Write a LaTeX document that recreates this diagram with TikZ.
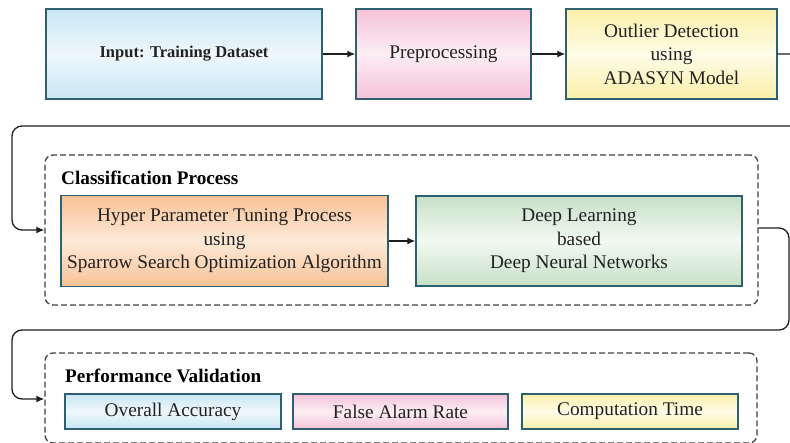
\documentclass[tikz,border=0pt]{standalone}
\usepackage{fontspec}
\setmainfont{Liberation Serif}
\usetikzlibrary{arrows.meta}
\definecolor{boxline}{HTML}{2F6070}
\definecolor{bluetop}{HTML}{C9E6F5}
\definecolor{bluemid}{HTML}{EEF8FC}
\definecolor{pinktop}{HTML}{F5C2D7}
\definecolor{pinkmid}{HTML}{FCEEF4}
\definecolor{yeltop}{HTML}{FAEFA8}
\definecolor{yelmid}{HTML}{FFFCE8}
\definecolor{orgtop}{HTML}{F8C296}
\definecolor{orgmid}{HTML}{FDE9D8}
\definecolor{grntop}{HTML}{C6E0C6}
\definecolor{grnmid}{HTML}{F2F9F2}
\definecolor{dashcol}{HTML}{404040}
\definecolor{conncol}{HTML}{1E1E1E}
\definecolor{txtcol}{HTML}{222222}
\begin{document}
\begin{tikzpicture}[x=1pt,y=-1pt,
  box/.style={draw=boxline, line width=1.4pt, inner sep=0pt, align=center,
    font=\fontsize{19.3}{23.5}\selectfont, text=txtcol},
  bluebox/.style={box, top color=bluetop, bottom color=bluetop, middle color=bluemid},
  pinkbox/.style={box, top color=pinktop, bottom color=pinktop, middle color=pinkmid},
  yelbox/.style={box, top color=yeltop, bottom color=yeltop, middle color=yelmid},
  orgbox/.style={box, top color=orgtop, bottom color=orgtop, middle color=orgmid},
  grnbox/.style={box, top color=grntop, bottom color=grntop, middle color=grnmid},
  dbox/.style={draw=dashcol, line width=1.3pt, dash pattern=on 6pt off 3pt, rounded corners=8pt, inner sep=0pt},
  grouplabel/.style={anchor=west, inner sep=0pt, font=\bfseries\fontsize{19.2}{23}\selectfont, text=black},
  conn/.style={draw=conncol, line width=1.3pt, -{Latex[length=8pt,width=7pt]}}
]
\useasboundingbox (0,0) rectangle (790,443);
\clip (0,0) rectangle (790,443);

% top row
\node[bluebox, minimum width=276, minimum height=90, font=\bfseries\fontsize{16.5}{20}\selectfont] (inp) at (184,54) {Input: Training Dataset};
\node[pinkbox, minimum width=175, minimum height=90] (pre) at (443.5,54) {Preprocessing};
\node[yelbox, minimum width=211, minimum height=90] (out) at (671.5,54) {Outlier Detection\\using\\ADASYN Model};

% classification group
\node[dbox, minimum width=713, minimum height=150] (cls) at (401.5,230) {};
\node[grouplabel] (clslab) at (61,178) {Classification Process};
\node[orgbox, minimum width=327, minimum height=91] (hyp) at (224.5,241) {Hyper Parameter Tuning Process\\using\\Sparrow Search Optimization Algorithm};
\node[grnbox, minimum width=326, minimum height=90] (dnn) at (579,241) {Deep Learning\\based\\Deep Neural Networks};

% performance group
\node[dbox, minimum width=712, minimum height=90] (perf) at (401,398) {};
\node[grouplabel] (perflab) at (65,376) {Performance Validation};
\node[bluebox, minimum width=216, minimum height=35] (acc) at (173,411.5) {Overall Accuracy};
\node[pinkbox, minimum width=215, minimum height=35] (far) at (400.5,411.5) {False Alarm Rate};
\node[yelbox, minimum width=216, minimum height=35] (ct) at (630,411.5) {Computation Time};

% connectors
\coordinate (y1) at (0,230);
\coordinate (y2) at (0,228);
\coordinate (y3) at (0,399);
\draw[conn] (inp) -- (pre);
\draw[conn] (pre) -- (out);
\draw[conn] (hyp) -- (dnn);
\draw[conn, rounded corners=10pt] (out.east) -- (805,54) -- (805,126) -- (12,126) -- (12,230) -- (cls.west |- y1);
\draw[conn, rounded corners=10pt] (cls.east |- y2) -- (789,228) -- (789,330) -- (12,330) -- (12,399) -- (perf.west |- y3);
\end{tikzpicture}
\end{document}
